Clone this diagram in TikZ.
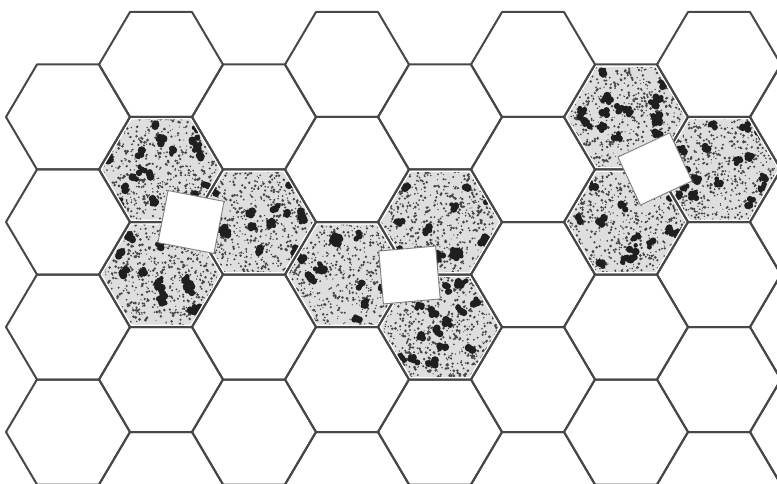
\documentclass[tikz,border=0pt]{standalone}
\begin{document}
\begin{tikzpicture}[x=1pt,y=-1pt,
    hexline/.style={draw=black!72, line width=2pt, line join=round},
    sqbox/.style={draw=black!50, fill=white, line width=0.9pt, inner sep=0pt, minimum width=57pt, minimum height=53pt}]
  \useasboundingbox (0,0) rectangle (777,484);
  \clip (0,0) rectangle (777,484);
  \pgfmathsetseed{7}
  % speckled cells
  \foreach \cx/\cy in {161/169.5,161/274.5,254/222,347/274.5,440/222,440/327,626/117,626/222,719/169.5}{
    \begin{scope}
      \clip (\cx-62,\cy) -- (\cx-31,\cy-52.5) -- (\cx+31,\cy-52.5) -- (\cx+62,\cy) -- (\cx+31,\cy+52.5) -- (\cx-31,\cy+52.5) -- cycle;
      \fill[black!13] (\cx-62,\cy-53) rectangle (\cx+62,\cy+53);
      \fill[black!72] \foreach \i in {1,...,780} {({\cx+62*rand},{\cy+53*rand}) circle ({0.55+1.0*rnd})};
      \foreach \i in {1,...,18}{
        \pgfmathsetmacro\bx{\cx+54*rand}
        \pgfmathsetmacro\by{\cy+46*rand}
        \fill[black!88] \foreach \j in {1,...,5} {({\bx+3.5*rand},{\by+3.5*rand}) circle ({2+2*rnd})};
      }
      \draw[white, line width=5pt] (\cx-62,\cy) -- (\cx-31,\cy-52.5) -- (\cx+31,\cy-52.5) -- (\cx+62,\cy) -- (\cx+31,\cy+52.5) -- (\cx-31,\cy+52.5) -- cycle;
    \end{scope}
  }
  % honeycomb
  \foreach \hx in {68,254,440,626,812}
    \foreach \hy in {117,222,327,432}
      \draw[hexline] (\hx-62,\hy) -- (\hx-31,\hy-52.5) -- (\hx+31,\hy-52.5) -- (\hx+62,\hy) -- (\hx+31,\hy+52.5) -- (\hx-31,\hy+52.5) -- cycle;
  \foreach \hx in {161,347,533,719}
    \foreach \hy in {64.5,169.5,274.5,379.5,484.5}
      \draw[hexline] (\hx-62,\hy) -- (\hx-31,\hy-52.5) -- (\hx+31,\hy-52.5) -- (\hx+62,\hy) -- (\hx+31,\hy+52.5) -- (\hx-31,\hy+52.5) -- cycle;
  % square plates
  \node[sqbox, rotate=-11] (sqA) at (191,222) {};
  \node[sqbox, rotate=5] (sqB) at (409.5,275) {};
  \node[sqbox, rotate=25] (sqC) at (655,169) {};
\end{tikzpicture}
\end{document}
